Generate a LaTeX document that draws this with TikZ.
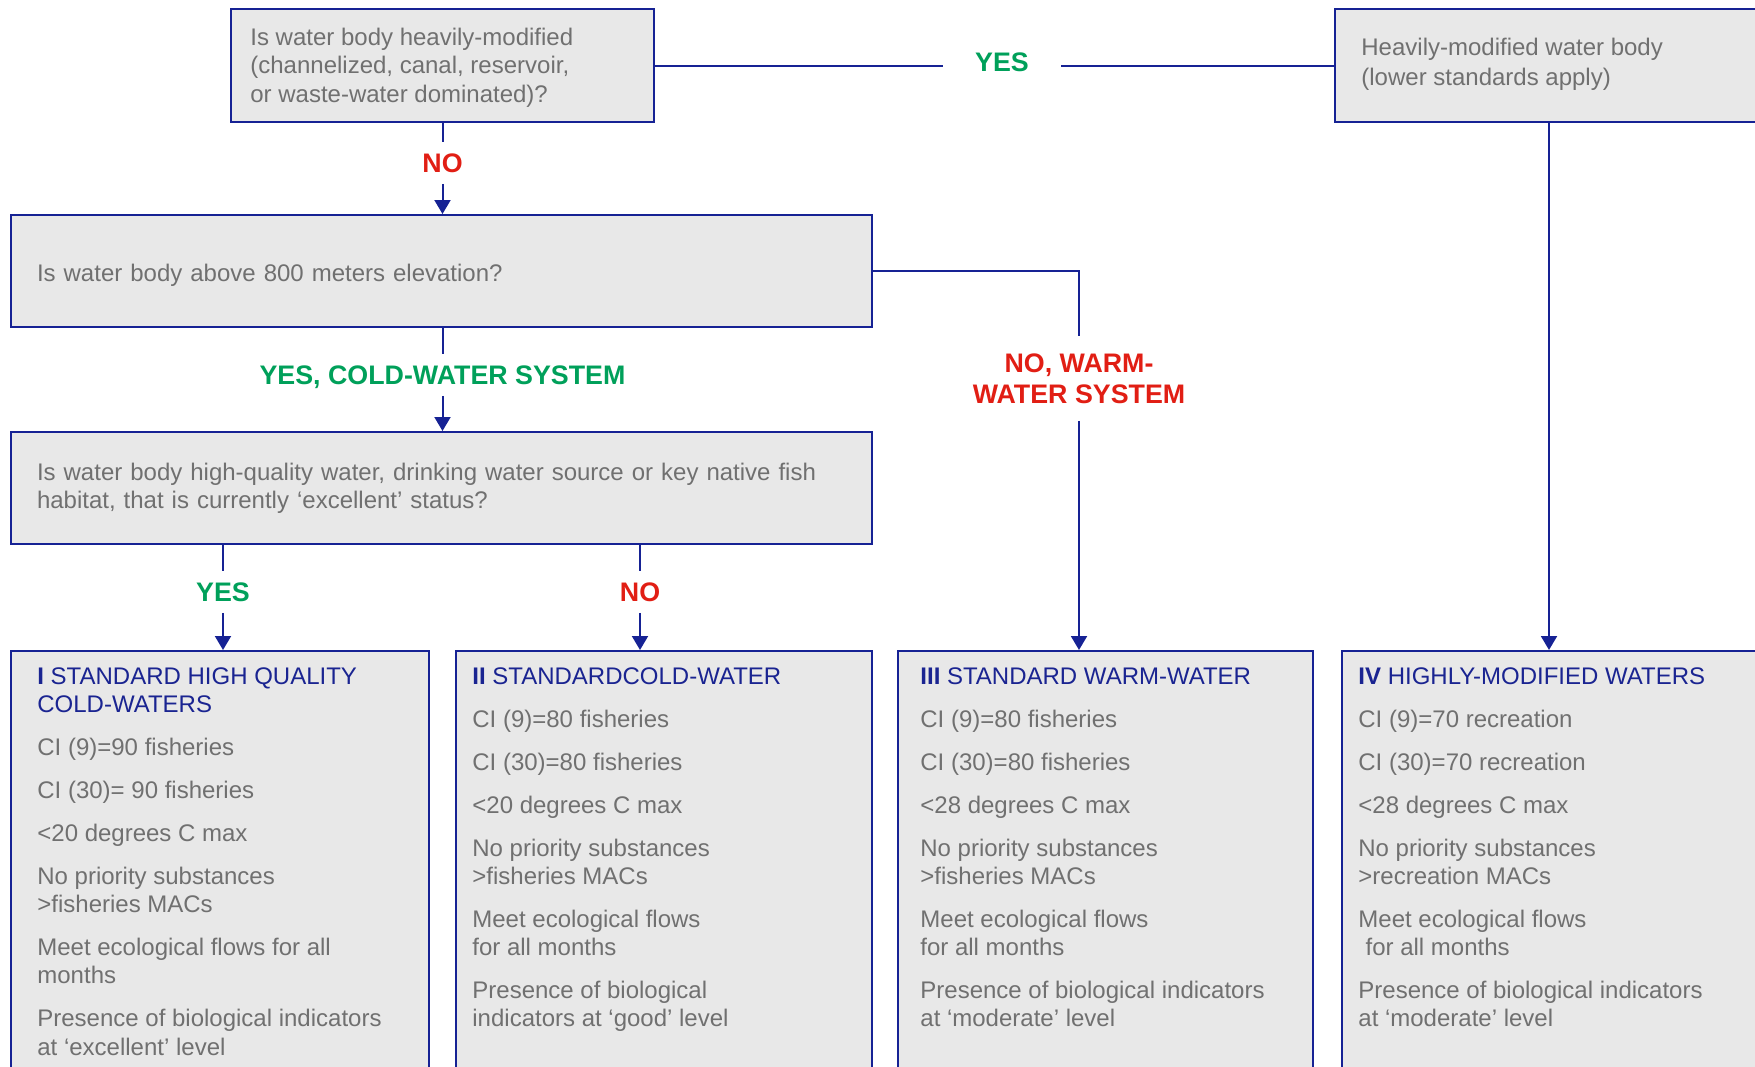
\documentclass[tikz,border=0pt]{standalone}
\usepackage{fontspec}
\setmainfont{Liberation Sans}
\usetikzlibrary{arrows.meta,calc}
\definecolor{bblue}{RGB}{22,34,148}
\definecolor{tblue}{RGB}{26,36,145}
\definecolor{tgray}{RGB}{112,112,112}
\definecolor{boxfill}{RGB}{232,232,232}
\definecolor{lgreen}{RGB}{0,160,90}
\definecolor{lred}{RGB}{225,30,20}
\begin{document}
\begin{tikzpicture}[x=0.5pt,y=-0.5pt,
  box/.style={draw=bblue, line width=1pt, fill=boxfill, rectangle, inner ysep=0pt},
  qtext/.style={font=\fontsize{12}{14.25}\selectfont, text=tgray, align=left},
  lab/.style={font=\fontsize{13.4}{15.5}\selectfont\bfseries, text height=9.7pt, text depth=0pt, inner xsep=4pt, inner ysep=5.4pt},
  conn/.style={draw=bblue, line width=1pt},
  arr/.style={conn, -{Triangle[length=7pt,width=8pt]}},
  list/.style={font=\fontsize{12}{14}\selectfont, text=tgray, align=left, inner sep=0pt, anchor=north west},
  ttl/.style={text=tblue}
]
\useasboundingbox (0,0) rectangle (1755,1066);
\clip (0,0) rectangle (1755,1066);

% question boxes
\node[box, minimum width=211.5pt, minimum height=56.5pt] (q1) at (442.5,65.5) {};
\node[qtext, inner sep=0pt, anchor=north west] (q1t) at (250,27.5)
  {Is water body heavily-modified\\(channelized, canal, reservoir,\\or waste-water dominated)?};
\node[box, minimum width=214pt, minimum height=56.5pt] (hm) at (1549,65.5) {};
\node[qtext, font=\fontsize{12}{15}\selectfont, inner sep=0pt, anchor=north west] (hmt) at (1361,38)
  {Heavily-modified water body\\(lower standards apply)};
\node[box, qtext, text width=404.5pt, inner xsep=13pt, minimum height=56pt, text height=10.6pt, text depth=0pt] (q2) at (441.5,271)
  {Is water body above 800 meters elevation?};
\node[box, qtext, font=\fontsize{12}{14}\selectfont, text width=404.5pt, inner xsep=13pt, minimum height=56pt] (q3) at (441.5,488)
  {Is water body high-quality water, drinking water source or key native fish\\habitat, that is currently ‘excellent’ status?};

% result boxes
\node[box, minimum width=209pt, minimum height=214.5pt] (b1) at (220,865.5) {};
\node[box, minimum width=208pt, minimum height=214.5pt] (b2) at (664,865.5) {};
\node[box, minimum width=207.5pt, minimum height=214.5pt] (b3) at (1105.5,865.5) {};
\node[box, minimum width=209pt, minimum height=214.5pt] (b4) at (1551,865.5) {};

% labels
\node[lab, text=lgreen, inner xsep=16pt] (yes1) at (1002,61.5) {YES};
\node[lab, text=lred] (no1) at (442.5,163) {NO};
\node[lab, text=lgreen] (yescold) at (442.5,375) {YES, COLD-WATER SYSTEM};
\node[font=\fontsize{13.4}{15.5}\selectfont\bfseries, text=lred, align=center, inner xsep=4pt, inner ysep=8.5pt] (warm) at (1079,378.5) {NO, WARM-\\WATER SYSTEM};
\node[lab, text=lgreen] (yes2) at (223,592) {YES};
\node[lab, text=lred] (no2) at (640,592) {NO};

% connectors
\draw[conn] (q1.east) -- (q1.east -| yes1.west);
\draw[conn] (yes1.east |- q1.east) -- (q1.east -| hm.west);
\draw[conn] (q1.south -| no1) -- (no1.north);
\draw[arr] (no1.south) -- (no1 |- q2.north);
\draw[conn] (q2.south -| yescold) -- (yescold.north);
\draw[arr] (yescold.south) -- (yescold |- q3.north);
\draw[conn] (q2.east) -| (warm.north);
\draw[arr] (warm.south) -- (warm |- b3.north);
\draw[conn] (q3.south -| yes2) -- (yes2.north);
\draw[arr] (yes2.south) -- (yes2 |- b1.north);
\draw[conn] (q3.south -| no2) -- (no2.north);
\draw[arr] (no2.south) -- (no2 |- b2.north);
\draw[arr] (hm.south) -- (hm.south |- b4.north);

% result texts
\node[list] (t1) at (37,667) {\textcolor{tblue}{\textbf{I} STANDARD HIGH QUALITY}\\\textcolor{tblue}{COLD-WATERS}\\[7.5pt]
CI (9)=90 fisheries\\[7.5pt]
CI (30)= 90 fisheries\\[7.5pt]
<20 degrees C max\\[7.5pt]
No priority substances\\>fisheries MACs\\[7.5pt]
Meet ecological flows for all\\months\\[7.5pt]
Presence of biological indicators\\[0.5pt]at ‘excellent’ level};

\node[list] (t2) at (472,667) {\textcolor{tblue}{\textbf{II} STANDARDCOLD-WATER}\\[7.5pt]
CI (9)=80 fisheries\\[7.5pt]
CI (30)=80 fisheries\\[7.5pt]
<20 degrees C max\\[7.5pt]
No priority substances\\>fisheries MACs\\[7.5pt]
Meet ecological flows\\for all months\\[7.5pt]
Presence of biological\\indicators at ‘good’ level};

\node[list] (t3) at (920,667) {\textcolor{tblue}{\textbf{III} STANDARD WARM-WATER}\\[7.5pt]
CI (9)=80 fisheries\\[7.5pt]
CI (30)=80 fisheries\\[7.5pt]
<28 degrees C max\\[7.5pt]
No priority substances\\>fisheries MACs\\[7.5pt]
Meet ecological flows\\for all months\\[7.5pt]
Presence of biological indicators\\at ‘moderate’ level};

\node[list] (t4) at (1358,667) {\textcolor{tblue}{\textbf{IV} HIGHLY-MODIFIED WATERS}\\[7.5pt]
CI (9)=70 recreation\\[7.5pt]
CI (30)=70 recreation\\[7.5pt]
<28 degrees C max\\[7.5pt]
No priority substances\\>recreation MACs\\[7.5pt]
Meet ecological flows\\\hspace{0.3em}for all months\\[7.5pt]
Presence of biological indicators\\at ‘moderate’ level};
\end{tikzpicture}
\end{document}
